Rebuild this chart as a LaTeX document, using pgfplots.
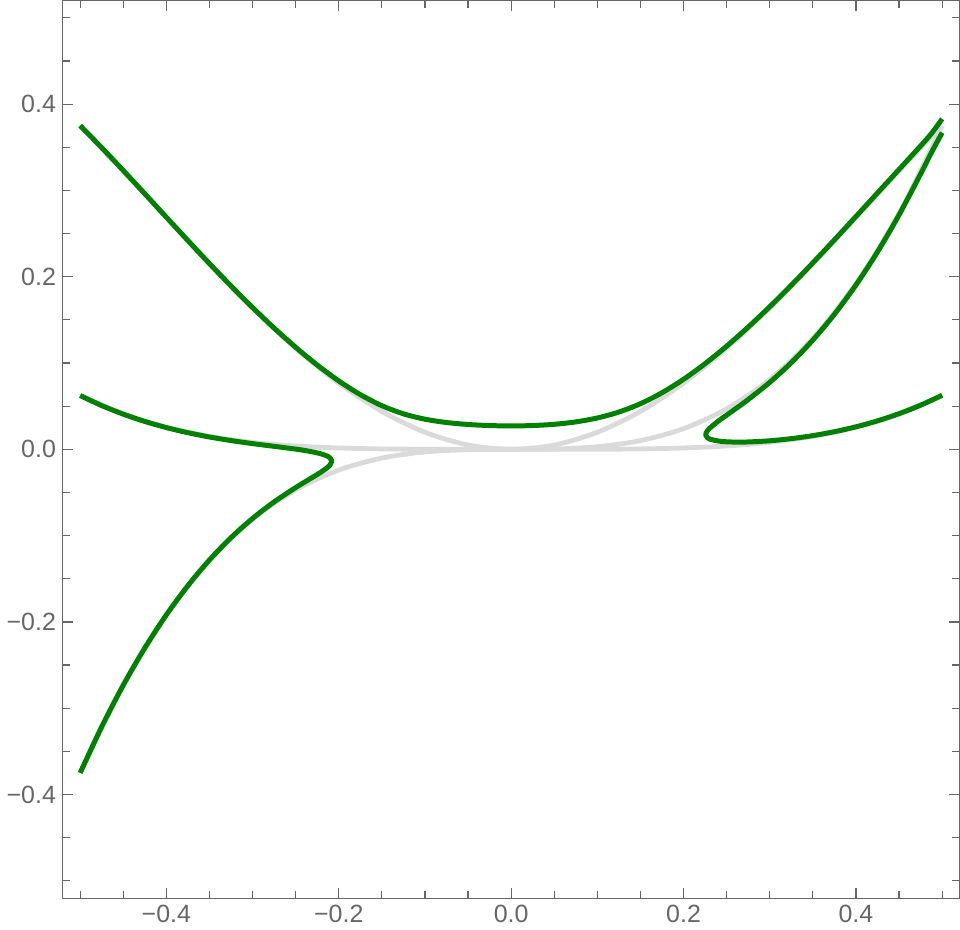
\documentclass[border=0pt]{standalone}
\usepackage{fontspec}
\setmainfont{Liberation Sans}
\usepackage{pgfplots}
\pgfplotsset{compat=1.18}
\definecolor{framegray}{RGB}{102,102,102}
\definecolor{curvegreen}{RGB}{0,128,0}
\definecolor{lightgr}{RGB}{218,218,218}

\begin{document}
\begin{tikzpicture}
\begin{axis}[
    scale only axis,
    width=449bp, height=449.5bp,
    xmin=-0.52, xmax=0.52,
    ymin=-0.52, ymax=0.52,
    axis line style={framegray, line width=0.5bp},
    tick style={framegray, line width=0.6bp},
    tick align=inside,
    major tick length=5bp,
    minor tick length=3.5bp,
    xtick={-0.4,-0.2,0,0.2,0.4},
    xticklabels={−0.4,−0.2,0.0,0.2,0.4},
    ytick={-0.4,-0.2,0,0.2,0.4},
    yticklabels={−0.4,−0.2,0.0,0.2,0.4},
    minor xtick={-0.5,-0.45,-0.35,-0.3,-0.25,-0.15,-0.1,-0.05,0.05,0.1,0.15,0.25,0.3,0.35,0.45,0.5},
    minor ytick={-0.5,-0.45,-0.35,-0.3,-0.25,-0.15,-0.1,-0.05,0.05,0.1,0.15,0.25,0.3,0.35,0.45,0.5},
    ticklabel style={font=\fontsize{12.5bp}{15bp}\selectfont, text=framegray},
    every axis plot/.append style={line join=round},
]
% zero-level curves (gray)
\addplot[lightgr, line width=2.4bp, smooth] coordinates {
  (-0.5,0.0625)(-0.45,0.041006)(-0.4,0.0256)(-0.35,0.015006)(-0.3,0.0081)(-0.25,0.003906)
  (-0.2,0.0016)(-0.15,0.000506)(-0.1,0.0001)(-0.05,0.000006)(0,0)(0.05,0.000006)(0.1,0.0001)
  (0.15,0.000506)(0.2,0.0016)(0.25,0.003906)(0.3,0.0081)(0.35,0.015006)(0.4,0.0256)
  (0.45,0.041006)(0.5,0.0625)};
\addplot[lightgr, line width=2.4bp, smooth] coordinates {
  (-0.5,0.375)(-0.45,0.322988)(-0.4,0.2688)(-0.35,0.214988)(-0.3,0.1638)(-0.25,0.117188)
  (-0.2,0.0768)(-0.15,0.043988)(-0.1,0.0198)(-0.05,0.0049875)(0,0)(0.05,0.0049875)(0.1,0.0198)
  (0.15,0.043988)(0.2,0.0768)(0.25,0.117188)(0.3,0.1638)(0.35,0.214988)(0.4,0.2688)
  (0.45,0.322988)(0.5,0.375)};
\addplot[lightgr, line width=2.4bp, smooth] coordinates {
  (-0.5,-0.375)(-0.45,-0.273375)(-0.4,-0.192)(-0.35,-0.128625)(-0.3,-0.081)(-0.25,-0.046875)
  (-0.2,-0.024)(-0.15,-0.010125)(-0.1,-0.003)(-0.05,-0.000375)(0,0)(0.05,0.000375)(0.1,0.003)
  (0.15,0.010125)(0.2,0.024)(0.25,0.046875)(0.3,0.081)(0.35,0.128625)(0.4,0.192)
  (0.45,0.273375)(0.5,0.375)};
% perturbed curves (green)
\addplot[curvegreen, line width=2.5bp, smooth] coordinates {
  (-0.5,0.37509)(-0.475,0.34954)(-0.45,0.32311)(-0.425,0.29614)(-0.4,0.26898)(-0.375,0.24193)
  (-0.35,0.21528)(-0.325,0.18932)(-0.3,0.16432)(-0.275,0.14054)(-0.25,0.11825)(-0.225,0.09772)
  (-0.2,0.07929)(-0.175,0.06340)(-0.15,0.05057)(-0.125,0.04116)(-0.1,0.03494)(-0.075,0.03109)
  (-0.05,0.0288)(-0.025,0.02755)(0,0.02714)(0.025,0.02758)(0.05,0.02903)(0.075,0.0318)
  (0.1,0.03635)(0.125,0.04322)(0.15,0.05291)(0.175,0.06562)(0.2,0.08119)(0.225,0.0993)
  (0.25,0.11957)(0.275,0.14167)(0.3,0.16531)(0.325,0.19022)(0.35,0.21612)(0.375,0.24276)
  (0.4,0.26985)(0.425,0.29713)(0.45,0.32437)(0.475,0.35164)(0.4875,0.36588)(0.5,0.3829)};
\addplot[curvegreen, line width=2.5bp, smooth] coordinates {
  (-0.5,0.06235)(-0.475,0.05073)(-0.45,0.04078)(-0.425,0.03234)(-0.4,0.02522)(-0.375,0.01927)
  (-0.35,0.01431)(-0.325,0.01017)(-0.3,0.00665)(-0.275,0.00349)(-0.25,0.00028)(-0.2375,-0.00162)
  (-0.225,-0.00407)(-0.22,-0.0054)(-0.215,-0.0071)(-0.2125,-0.00828)(-0.21,-0.00996)
  (-0.2081,-0.0133)(-0.21,-0.01795)(-0.2125,-0.02045)(-0.215,-0.02247)(-0.22,-0.02596)
  (-0.225,-0.02914)(-0.2375,-0.03669)(-0.25,-0.04431)(-0.275,-0.0609)(-0.3,-0.08007)
  (-0.325,-0.10238)(-0.35,-0.12822)(-0.375,-0.15792)(-0.4,-0.1918)(-0.425,-0.23015)
  (-0.45,-0.27327)(-0.475,-0.32144)(-0.5,-0.37494)};
\addplot[curvegreen, line width=2.5bp, smooth] coordinates {
  (0.5,0.3669)(0.4875,0.34381)(0.475,0.31906)(0.45,0.27169)(0.425,0.22878)(0.4,0.19045)(0.375,0.15649)
  (0.35,0.1266)(0.325,0.10045)(0.3,0.07766)(0.275,0.05771)(0.2625,0.04854)(0.25,0.03966)
  (0.24,0.03248)(0.23,0.0242)(0.2275,0.02141)(0.2256,0.0169)(0.2275,0.0135)(0.23,0.01203)
  (0.24,0.00968)(0.25,0.00874)(0.2625,0.00838)(0.275,0.00855)(0.3,0.00993)(0.325,0.01241)
  (0.35,0.0159)(0.375,0.02043)(0.4,0.0261)(0.425,0.03301)(0.45,0.04131)(0.475,0.05115)
  (0.5,0.0627)};
\end{axis}
\end{tikzpicture}
\end{document}
